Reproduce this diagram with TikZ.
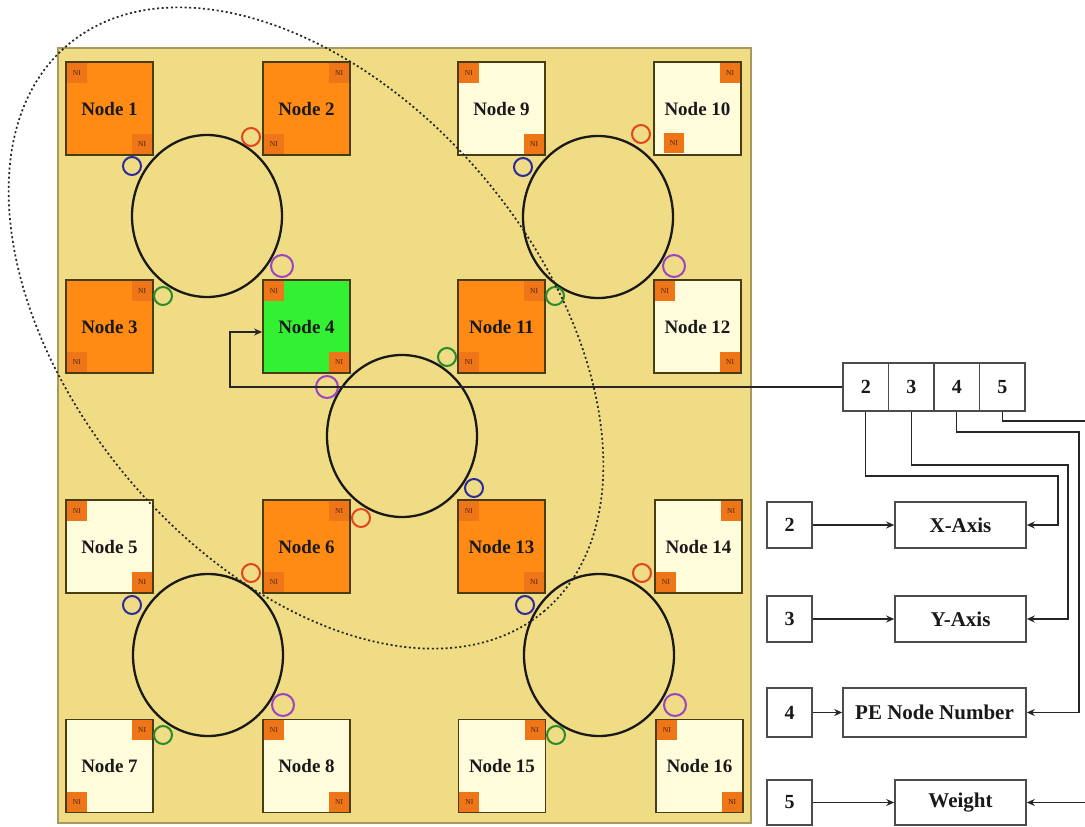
\documentclass[tikz,border=0pt]{standalone}
\usepackage{fontspec}
\setmainfont{Liberation Serif}
\usetikzlibrary{arrows.meta,calc}
\definecolor{panel}{HTML}{F0DC84}
\definecolor{orangen}{HTML}{FF8A14}
\definecolor{creamn}{HTML}{FFFCDC}
\definecolor{greenn}{HTML}{33F033}
\definecolor{nipatch}{HTML}{EE7518}
\definecolor{nodeborder}{HTML}{4A3C14}
\definecolor{nitext}{HTML}{4A2408}
\definecolor{cblue}{HTML}{2A2A9C}
\definecolor{cred}{HTML}{E2441C}
\definecolor{cgreen}{HTML}{2A8A2A}
\definecolor{cpurple}{HTML}{9A44C4}
\newcommand\niNW[1]{\node[ni,anchor=north west] (#1nw) at ($(#1.north west)+(1.5,1.5)$) {NI};}
\newcommand\niNE[1]{\node[ni,anchor=north east] (#1ne) at ($(#1.north east)+(-1.5,1.5)$) {NI};}
\newcommand\niSW[1]{\node[ni,anchor=south west] (#1sw) at ($(#1.south west)+(1.5,-1.5)$) {NI};}
\newcommand\niSE[1]{\node[ni,anchor=south east] (#1se) at ($(#1.south east)+(-1.5,-1.5)$) {NI};}
\begin{document}
\begin{tikzpicture}[x=1pt,y=-1pt,
  pe/.style={draw=nodeborder,line width=1.8pt,minimum width=87pt,minimum height=93pt,inner sep=0pt,font=\fontsize{19}{22}\selectfont\bfseries,text=black!90},
  ni/.style={fill=nipatch,minimum width=20pt,minimum height=20pt,inner sep=0pt,font=\fontsize{7.5}{8}\selectfont,text=nitext},
  ring/.style={draw=black!90,line width=2.3pt},
  port/.style={line width=2pt},
  box/.style={draw=black!70,line width=1.6pt,inner sep=0pt,minimum height=46pt,font=\fontsize{20}{24}\selectfont\bfseries,text=black!90},
  arr/.style={draw=black!85,line width=1.4pt,-{Stealth[length=8pt,width=7pt]}},
  loop/.style={draw=black!85,line width=1.7pt,dash pattern=on 2pt off 2.6pt}
]
\clip (0,0) rectangle (1085,827);
\fill[white] (0,0) rectangle (1085,827);
\draw[fill=panel,draw=black!30!panel,line width=2pt] (58,48) rectangle (751,823);

% PE nodes
\node[pe,fill=orangen] (n1) at (109.5,108.5) {Node 1};
\node[pe,fill=orangen] (n2) at (306.5,108.5) {Node 2};
\node[pe,fill=creamn] (n9) at (501.5,108.5) {Node 9};
\node[pe,fill=creamn] (n10) at (697.5,108.5) {Node 10};
\node[pe,fill=orangen] (n3) at (109.5,326.5) {Node 3};
\node[pe,fill=greenn] (n4) at (306.5,326.5) {Node 4};
\node[pe,fill=orangen] (n11) at (501.5,326.5) {Node 11};
\node[pe,fill=creamn] (n12) at (697.5,326.5) {Node 12};
\node[pe,fill=creamn] (n5) at (109.5,546.5) {Node 5};
\node[pe,fill=orangen] (n6) at (306.5,546.5) {Node 6};
\node[pe,fill=orangen] (n13) at (501.5,546.5) {Node 13};
\node[pe,fill=creamn] (n14) at (698.5,546.5) {Node 14};
\node[pe,fill=creamn] (n7) at (109.5,766) {Node 7};
\node[pe,fill=creamn] (n8) at (306.5,766) {Node 8};
\node[pe,fill=creamn] (n15) at (502,766) {Node 15};
\node[pe,fill=creamn] (n16) at (699.5,766) {Node 16};

% NI patches
\niNW{n1}\niSE{n1}
\niNE{n2}\niSW{n2}
\niNE{n3}\niSW{n3}
\niNW{n4}\niSE{n4}
\niNW{n5}\niSE{n5}
\niNE{n6}\niSW{n6}
\niNE{n7}\niSW{n7}
\niNW{n8}\niSE{n8}
\niNW{n9}\niSE{n9}
\niNE{n10}
\node[ni,anchor=south west] (n10sw) at ($(n10.south west)+(10.5,-2.5)$) {NI};
\niNE{n11}\niSW{n11}
\niNW{n12}\niSE{n12}
\niNW{n13}\niSE{n13}
\niNE{n14}\niSW{n14}
\niNE{n15}\niSW{n15}
\niNW{n16}\niSE{n16}

% rings
\draw[ring] (207,216) ellipse [x radius=75pt,y radius=81pt];
\draw[ring] (598,217) ellipse [x radius=75pt,y radius=81pt];
\draw[ring] (402,436) ellipse [x radius=75pt,y radius=81pt];
\draw[ring] (208,655) ellipse [x radius=75pt,y radius=81pt];
\draw[ring] (599,655) ellipse [x radius=75pt,y radius=81pt];

% ports
\draw[port,cblue] (132,166) circle[radius=9pt];
\draw[port,cred] (251,137) circle[radius=9pt];
\draw[port,cpurple] (282,266) circle[radius=11pt];
\draw[port,cgreen] (163,296) circle[radius=9pt];

\draw[port,cblue] (523,167) circle[radius=9pt];
\draw[port,cred] (641,134) circle[radius=9pt];
\draw[port,cpurple] (674,266) circle[radius=11pt];
\draw[port,cgreen] (555,296) circle[radius=9pt];

\draw[port,cgreen] (447,357) circle[radius=9pt];
\draw[port,cpurple] (327,387) circle[radius=11pt];
\draw[port,cblue] (474,488) circle[radius=9pt];
\draw[port,cred] (361,518) circle[radius=9pt];

\draw[port,cred] (251,573) circle[radius=9pt];
\draw[port,cblue] (132,605) circle[radius=9pt];
\draw[port,cpurple] (283,705) circle[radius=11pt];
\draw[port,cgreen] (163,735) circle[radius=9pt];

\draw[port,cred] (642,573) circle[radius=9pt];
\draw[port,cblue] (525,605) circle[radius=9pt];
\draw[port,cpurple] (675,705) circle[radius=11pt];
\draw[port,cgreen] (556,735) circle[radius=9pt];

% register
\node[box,minimum width=45.5pt,minimum height=48pt] (c2) at (865.75,387) {2};
\node[box,minimum width=45.5pt,minimum height=48pt] (c3) at (911.25,387) {3};
\node[box,minimum width=45.5pt,minimum height=48pt] (c4) at (956.75,387) {4};
\node[box,minimum width=45.5pt,minimum height=48pt] (c5) at (1002.25,387) {5};

% decoded fields
\node[box,minimum width=45pt] (s2) at (789.5,525) {2};
\node[box,minimum width=131pt,font=\fontsize{21}{24}\selectfont\bfseries] (xa) at (960.5,525) {X-Axis};
\node[box,minimum width=45pt] (s3) at (789.5,619) {3};
\node[box,minimum width=131pt,font=\fontsize{21}{24}\selectfont\bfseries] (ya) at (960.5,619) {Y-Axis};
\node[box,minimum width=45pt,minimum height=49pt] (s4) at (789.5,712.5) {4};
\node[box,minimum width=183pt,minimum height=49pt,font=\fontsize{21}{24}\selectfont\bfseries] (pn) at (934.5,712.5) {PE Node Number};
\node[box,minimum width=45pt,minimum height=45pt] (s5) at (789.5,802.5) {5};
\node[box,minimum width=131pt,minimum height=45pt,font=\fontsize{21}{24}\selectfont\bfseries] (wt) at (960.5,802.5) {Weight};

\draw[arr] (s2.east) -- (xa.west);
\draw[arr] (s3.east) -- (ya.west);
\draw[arr] (s4.east) -- (pn.west);
\draw[arr] (s5.east) -- (wt.west);

\coordinate (j2) at (1058,476);
\coordinate (j3) at (1068,465);
\coordinate (j4) at (1079,432);
\coordinate (j5) at (1095,421);
\draw[arr] (c2.south) |- (j2) |- (xa.east);
\draw[arr] (c3.south) |- (j3) |- (ya.east);
\draw[arr] (c4.south) |- (j4) |- (pn.east);
\draw[arr] (c5.south) |- (j5) |- (wt.east);

\coordinate (k4) at (230,332);
\draw[arr] (c2.west) -| (k4) -- (n4.west |- k4);

% cluster boundary
\draw[loop,rotate around={-50:(306,328)}] (306,328) ellipse [x radius=370pt,y radius=233pt];
\end{tikzpicture}
\end{document}
